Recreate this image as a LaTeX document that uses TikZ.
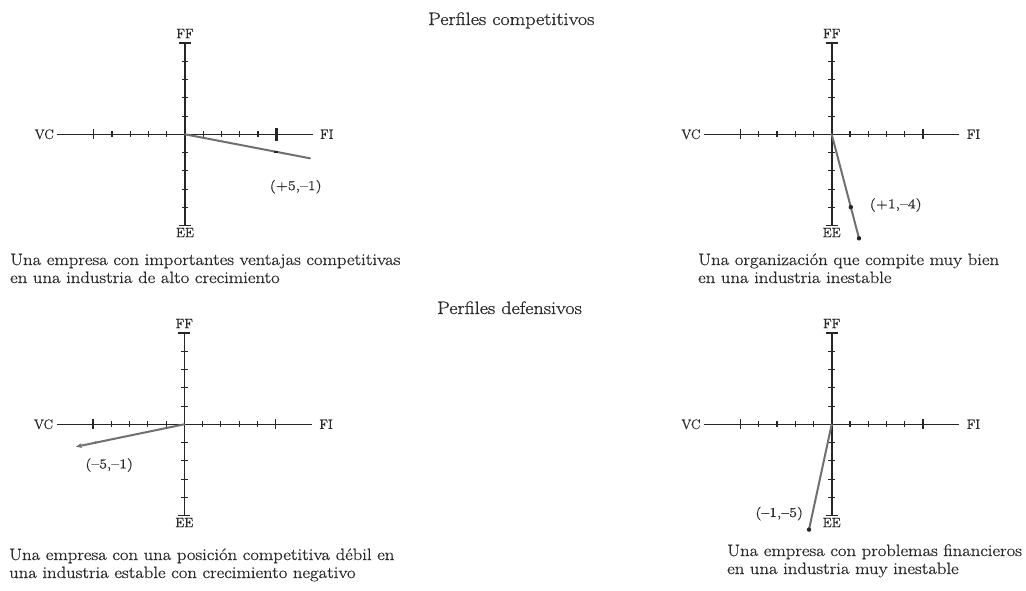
\documentclass[tikz,border=0pt]{standalone}
\usepackage{fontspec}
\setmainfont{Latin Modern Roman}[FakeBold=0.7]
\usetikzlibrary{arrows.meta}
\definecolor{ink}{HTML}{262626}
\definecolor{vecgray}{HTML}{707070}
\definecolor{txt}{HTML}{2A2A2A}
\newcommand{\un}{18.25}
% horizontally widened text, for the wider book face
\newcommand{\widetext}[2]{\scalebox{#1}[1]{#2}}
\tikzset{
  axisline/.style={line width=1.6pt, draw=ink},
  minortick/.style={line width=1.1pt, draw=ink},
  majortick/.style={line width=1.3pt, draw=ink},
  vecline/.style={line width=2pt, draw=vecgray, line cap=round},
  axlabel/.style={font=\fontsize{13.5}{13.5}\selectfont, text=txt, inner sep=0pt},
  coordlab/.style={font=\fontsize{13.5}{13.5}\selectfont, text=txt, inner sep=0pt},
  caption/.style={font=\fontsize{16.5}{18}\selectfont, text=txt, inner sep=0pt, anchor=base west},
  heading/.style={font=\fontsize{18}{18}\selectfont, text=txt, inner sep=0pt, anchor=base west},
  dotmark/.style={fill=ink, draw=none},
  profile/.pic={
    \coordinate (-o) at (0,0);
    % axes
    \draw[axisline] (-7*\un,0) -- (7*\un,0);
    \draw[axisline] (0,-5*\un) -- (0,5*\un);
    % ticks
    \foreach \i in {-4,-3,-2,-1,1,2,3,4} {
      \draw[minortick] (\i*\un,-3) -- (\i*\un,3);
      \draw[minortick] (-3.3,\i*\un) -- (3.3,\i*\un);
    }
    \foreach \i in {-5,5} {
      \draw[majortick] (\i*\un,-5) -- (\i*\un,5);
      \draw[majortick] (-6,\i*\un) -- (6,\i*\un);
    }
    % axis labels
    \node[axlabel] (-vc) at (-7*\un-13,0) {VC};
    \node[axlabel] (-fi) at (7*\un+14,0) {FI};
    \node[axlabel] (-ff) at (0,-5*\un-9.5) {FF};
    \node[axlabel] (-ee) at (0,5*\un+7) {EE};
  }
}
\begin{document}
\begin{tikzpicture}[x=1pt,y=-1pt]
  \useasboundingbox[fill=white] (0,0) rectangle (1026,590);

  % headings
  \node[heading] (h1) at (428,25) {\widetext{1.12}{Perfiles competitivos}};
  \node[heading] (h2) at (437,314) {\widetext{1.12}{Perfiles defensivos}};

  % the four profiles
  \pic (p1) at (185,134.3) {profile};
  \pic (p2) at (831.7,134.3) {profile};
  \pic (p3) at (184.3,424.3) {profile};
  \pic (p4) at (831.7,424.3) {profile};

  % profile 1: (+5,-1)
  \draw[line width=3pt, draw=ink] (5*\un+185,128) -- (5*\un+185,140.5);
  \path (p1-o) ++(125,24) coordinate (p1-end);
  \draw[vecline] (p1-o) -- (p1-end);
  \path (p1-o) -- (p1-end) coordinate[pos=0.73] (p1-pt);
  \fill[dotmark] ([shift={(-1.8,-1.3)}]p1-pt) rectangle ([shift={(1.8,1.3)}]p1-pt);
  \node[coordlab] (p1-lab) at ([shift={(110.7,52.4)}]p1-o) {\widetext{1.18}{(+5,--1)}};

  % profile 2: (+1,-4)
  \path (p2-o) ++(27.3,104) coordinate (p2-end);
  \draw[vecline] (p2-o) -- (p2-end);
  \path (p2-o) -- (p2-end) coordinate[pos=0.70] (p2-pt);
  \fill[dotmark] (p2-pt) circle (2.2);
  \fill[dotmark] (p2-end) circle (2.2);
  \node[coordlab] (p2-lab) at ([shift={(64,70.7)}]p2-o) {\widetext{1.18}{(+1,--4)}};

  % profile 3: (-5,-1)
  \path (p3-o) ++(-108.3,22.4) coordinate (p3-end);
  \draw[vecline, -{Stealth[length=6pt,width=5pt]}] (p3-o) -- (p3-end);
  \path (p3-o) -- (p3-end) coordinate[pos=0.82] (p3-pt);
  \fill[vecgray] (p3-pt) circle (1.5);
  \node[coordlab] (p3-lab) at ([shift={(-75.1,40.7)}]p3-o) {\widetext{1.18}{(--5,--1)}};

  % profile 4: (-1,-5)
  \path (p4-o) ++(-22.7,105.3) coordinate (p4-end);
  \draw[vecline] (p4-o) -- (p4-end);
  \fill[dotmark] (p4-end) circle (2.2);
  \node[coordlab] (p4-lab) at ([shift={(-52.5,89.3)}]p4-o) {\widetext{1.18}{(--1,--5)}};

  % captions
  \node[caption] (c1a) at (10,265) {\widetext{1.13}{Una empresa con importantes ventajas competitivas}};
  \node[caption] (c1b) at (10,283) {\widetext{1.13}{en una industria de alto crecimiento}};
  \node[caption] (c2a) at (698,265) {\widetext{1.13}{Una organización que compite muy bien}};
  \node[caption] (c2b) at (698,283) {\widetext{1.13}{en una industria inestable}};
  \node[caption] (c3a) at (9,560) {\widetext{1.13}{Una empresa con una posición competitiva débil en}};
  \node[caption] (c3b) at (9,578) {\widetext{1.13}{una industria estable con crecimiento negativo}};
  \node[caption] (c4a) at (727,556) {\widetext{1.13}{Una empresa con problemas financieros}};
  \node[caption] (c4b) at (727,574) {\widetext{1.13}{en una industria muy inestable}};
\end{tikzpicture}
\end{document}
